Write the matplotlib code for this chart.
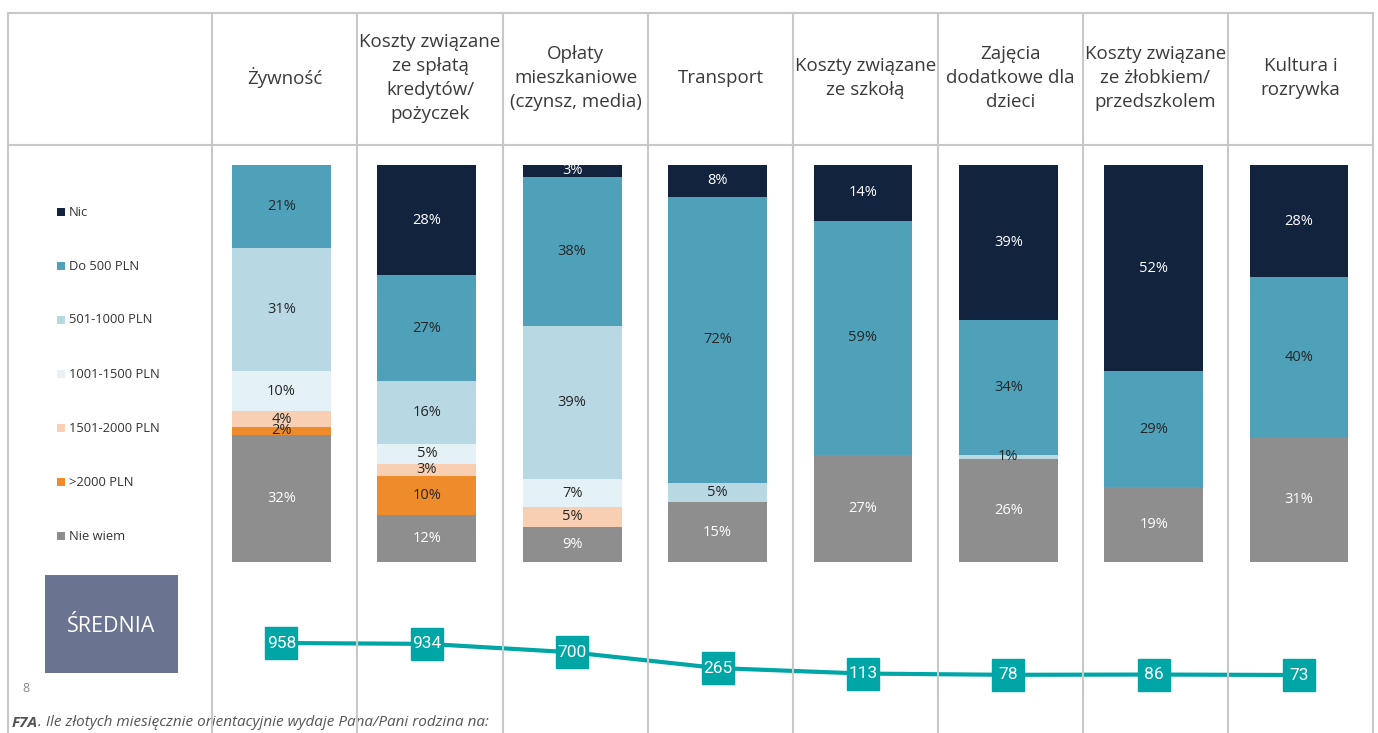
import matplotlib
matplotlib.use("Agg")
import matplotlib.pyplot as plt
from matplotlib.patches import Rectangle

plt.rcParams['font.family'] = ['Open Sans', 'DejaVu Sans']

W, H = 1378, 733

categories = ["Żywność",
              "Koszty związane\nze spłatą\nkredytów/\npożyczek",
              "Opłaty\nmieszkaniowe\n(czynsz, media)",
              "Transport",
              "Koszty związane\nze szkołą",
              "Zajęcia\ndodatkowe dla\ndzieci",
              "Koszty związane\nze żłobkiem/\nprzedszkolem",
              "Kultura i\nrozrywka"]

series = ["Nic", "Do 500 PLN", "501-1000 PLN", "1001-1500 PLN",
          "1501-2000 PLN", ">2000 PLN", "Nie wiem"]
colors = ["#12233d", "#4fa1ba", "#b8d8e4", "#e4f1f6",
          "#f8cfb2", "#ee8c2c", "#8e8e8e"]
label_colors = ["white", "#262626", "#262626", "#262626",
                "#262626", "#262626", "white"]

nic = [0, 28, 3, 8, 14, 39, 52, 28]
do500 = [21, 27, 38, 72, 59, 34, 29, 40]
p501_1000 = [31, 16, 39, 5, 0, 1, 0, 0]
p1001_1500 = [10, 5, 7, 0, 0, 0, 0, 0]
p1501_2000 = [4, 3, 5, 0, 0, 0, 0, 0]
p2000 = [2, 10, 0, 0, 0, 0, 0, 0]
nie_wiem = [32, 12, 9, 15, 27, 26, 19, 31]

srednia = [958, 934, 700, 265, 113, 78, 86, 73]

values = [nic, do500, p501_1000, p1001_1500, p1501_2000, p2000, nie_wiem]

fig = plt.figure(figsize=(W / 100, H / 100), dpi=100)

def fx(px):
    return px / W

def fy(py):
    return 1 - py / H

grid_c = "#c8c8c8"
col_edges = [8, 212, 357, 503, 648, 793, 938, 1083, 1228, 1373]

# table lines
for x in col_edges:
    fig.add_artist(plt.Line2D([fx(x), fx(x)], [fy(13), fy(733)], color=grid_c, lw=1.5))
for y in [13, 145]:
    fig.add_artist(plt.Line2D([fx(8), fx(1373)], [fy(y), fy(y)], color=grid_c, lw=1.5))

# headers
for i, cat in enumerate(categories):
    cx = (col_edges[i + 1] + col_edges[i + 2]) / 2
    fig.text(fx(cx), fy(78), cat, ha="center", va="center", fontsize=13.5,
             color="#3a3a3a", linespacing=1.45)

# stacked bars
ax_l, ax_r = 208.8, 1371.7
ax = fig.add_axes([fx(ax_l), fy(562), fx(ax_r) - fx(ax_l), fy(165) - fy(562)])
ax.set_xlim(-0.5, 7.5)
ax.set_ylim(0, 100)
ax.axis("off")

order = list(range(len(series)))[::-1]  # bottom: Nie wiem
totals = [sum(v[i] for v in values) for i in range(len(categories))]
bottoms = [0.0] * len(categories)
for s in order:
    heights = [values[s][i] / totals[i] * 100 for i in range(len(categories))]
    ax.bar(range(len(categories)), heights, bottom=bottoms, width=0.68,
           color=colors[s], edgecolor="none")
    for i, h in enumerate(heights):
        if values[s][i] > 0:
            ax.text(i, bottoms[i] + h / 2, f"{values[s][i]}%", ha="center", va="center",
                    fontsize=10.5, color=label_colors[s])
    bottoms = [b + h for b, h in zip(bottoms, heights)]

# legend
leg_y = [212, 266, 320, 374, 428, 482, 536]
for s, y in enumerate(leg_y):
    fig.add_artist(Rectangle((fx(57), fy(y + 4)), fx(8), fy(y - 4) - fy(y + 4),
                             facecolor=colors[s], edgecolor="none",
                             transform=fig.transFigure))
    fig.text(fx(69), fy(y), series[s], ha="left", va="center", fontsize=9.3,
             color="#333333")

# ŚREDNIA box
fig.add_artist(Rectangle((fx(45), fy(673)), fx(133), fy(575) - fy(673),
                         facecolor="#6a7490", edgecolor="none",
                         transform=fig.transFigure))
fig.text(fx(111), fy(626), "ŚREDNIA", ha="center", va="center", fontsize=15.5,
         color="white")

# mean line
ax2 = fig.add_axes([fx(ax_l), fy(700), fx(ax_r) - fx(ax_l), fy(600) - fy(700)])
ax2.set_xlim(-0.5, 7.5)
ax2.set_ylim(-618, 2147)
ax2.axis("off")
teal = "#00a6a6"
ax2.plot(range(len(srednia)), srednia, color=teal, lw=3,
         marker="s", markersize=23.5, markerfacecolor=teal, markeredgecolor=teal)
for i, v in enumerate(srednia):
    ax2.text(i, v, str(v), ha="center", va="center", fontsize=12.5, color="white",
             family=["Roboto", "Open Sans"])

fig.text(fx(22), fy(689), "8", ha="left", va="center", fontsize=9, color="#888888")
t1 = fig.text(fx(12), fy(723), "F7A", ha="left", va="center", fontsize=11,
              color="#555555", style="italic", weight="bold")
ax.annotate(". Ile złotych miesięcznie orientacyjnie wydaje Pana/Pani rodzina na:",
            xy=(1, 0.5), xycoords=t1, ha="left", va="center", fontsize=11,
            color="#555555", style="italic", annotation_clip=False)

fig.savefig("out.png", dpi=100)
